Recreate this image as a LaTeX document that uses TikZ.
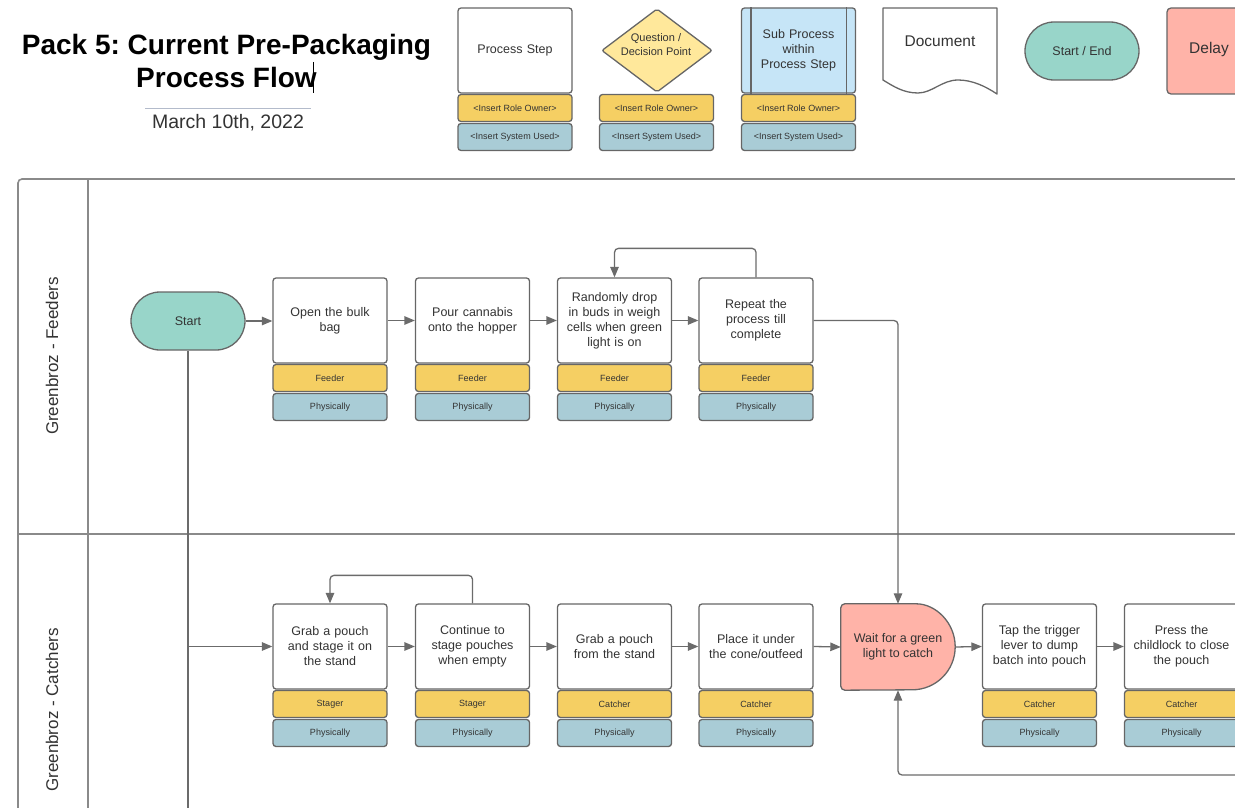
\documentclass[tikz,border=0pt]{standalone}
\usepackage{fontspec}
\setmainfont{Liberation Sans}
\usetikzlibrary{arrows.meta}
\frenchspacing

\definecolor{ink}{HTML}{333333}
\definecolor{boxline}{HTML}{666666}
\definecolor{connline}{HTML}{6B6B6B}
\definecolor{laneline}{HTML}{8A8A8A}
\definecolor{sepline}{HTML}{B3BBCB}
\definecolor{roleyellow}{HTML}{F5CF63}
\definecolor{sysblue}{HTML}{A9CCD6}
\definecolor{startteal}{HTML}{98D5C9}
\definecolor{delaysalmon}{HTML}{FFB3A8}
\definecolor{decisionyellow}{HTML}{FFE89B}
\definecolor{subblue}{HTML}{C6E5F7}

% one process step: main box, role band, system band
\newcommand{\procstep}[5]{% name, centre x, top y, text, role
  \node[proc] (#1) at (#2,#3+42.5) {#4};
  \node[role] (#1r) at (#2,#3+100) {#5};
  \node[sys] (#1s) at (#2,#3+129) {Physically};
}

\begin{document}
\begin{tikzpicture}[x=1pt,y=-1pt,
  txt/.style={text=ink, font=\fontsize{12.5}{15}\selectfont, align=center},
  outline/.style={draw=boxline, line width=1.3pt},
  proc/.style={outline, fill=white, rounded corners=3pt, minimum width=114pt,
    minimum height=85pt, inner sep=2pt, txt, text width=108pt},
  band/.style={outline, rounded corners=3pt, minimum width=114pt, minimum height=27pt,
    inner sep=0pt, text=ink, font=\fontsize{9}{10}\selectfont},
  role/.style={band, fill=roleyellow},
  sys/.style={band, fill=sysblue},
  pill/.style={outline, fill=startteal, rounded corners=29pt, minimum width=114pt,
    minimum height=58pt, inner sep=0pt, txt},
  conn/.style={draw=connline, line width=1.3pt, rounded corners=4pt},
  arr/.style={conn, -{Triangle[length=10.5pt,width=8.5pt]}},
  lane/.style={draw=laneline, line width=1.6pt},
]
\useasboundingbox (0,0) rectangle (1235,808);
\clip (0,0) rectangle (1235,808);

% ---------- heading ----------
\node[font=\fontsize{28}{33}\selectfont\bfseries, align=center, text=black] (title)
  at (226.5,60.5) {Pack 5: Current Pre-Packaging\\Process Flow};
\draw[black, line width=0.8pt] (313,62) -- (313,93);
\draw[sepline, line width=1pt] (145,108) -- (311,108);
\node[font=\fontsize{19.5}{22}\selectfont, text=ink] (date) at (228,123) {March 10th, 2022};

% ---------- legend ----------
\node[proc] (lp) at (515,50.5) {Process Step};
\node[role] (lpr) at (515,108) {<Insert Role Owner>};
\node[sys] (lps) at (515,137) {<Insert System Used>};

\draw[outline, fill=decisionyellow, rounded corners=2pt]
  (657,9) -- (712,50.5) -- (657,92) -- (602,50.5) -- cycle;
\node[text=ink, font=\fontsize{11}{14}\selectfont, align=center] (ld) at (656,45)
  {Question /\\Decision Point};
\node[role] (ldr) at (656.5,108) {<Insert Role Owner>};
\node[sys] (lds) at (656.5,137) {<Insert System Used>};

\node[proc, fill=subblue, text width=92pt] (ls) at (798.5,50.5) {Sub Process\\within\\Process Step};
\draw[outline] ([xshift=10pt]ls.north west) -- ([xshift=10pt]ls.south west);
\draw[outline] ([xshift=-10pt]ls.north east) -- ([xshift=-10pt]ls.south east);
\node[role] (lsr) at (798.5,108) {<Insert Role Owner>};
\node[sys] (lss) at (798.5,137) {<Insert System Used>};

\draw[outline, fill=white, line join=round]
  (883,80) -- (883,8) -- (997,8) -- (997,94)
  .. controls (985,86) and (972,80) .. (958,80)
  .. controls (942,80) and (932,93) .. (918,93)
  .. controls (903,93) and (893,86) .. (883,80) -- cycle;
\node[text=ink, font=\fontsize{15.5}{18}\selectfont] (ldoc) at (940,41) {Document};

\node[pill] (lse) at (1082,51) {Start / End};

\draw[outline, fill=delaysalmon]
  (1238,8) arc[start angle=90, end angle=-90, radius=43pt]
  [rounded corners=4pt] -- (1167,94) -- (1167,8) -- cycle;
\node[text=ink, font=\fontsize{15.5}{18}\selectfont] (ldl) at (1209,49) {Delay};

% ---------- swimlanes ----------
\draw[lane, rounded corners=4pt] (1260,179) -- (18,179) -- (18,830);
\draw[lane] (88,179) -- (88,830);
\draw[lane] (18,534) -- (1260,534);
\node[rotate=90, text=ink, font=\fontsize{17}{20}\selectfont] (lf) at (52,356) {Greenbroz - Feeders};
\node[rotate=90, text=ink, font=\fontsize{17}{20}\selectfont] (lc) at (52,710) {Greenbroz - Catchers};

% ---------- feeders ----------
\node[pill] (start) at (188,321) {Start};
\procstep{f1}{330}{278}{Open the bulk\\bag}{Feeder}
\procstep{f2}{472.5}{278}{Pour cannabis\\onto the hopper}{Feeder}
\procstep{f3}{614.5}{278}{Randomly drop\\in buds in weigh\\cells when green\\light is on}{Feeder}
\procstep{f4}{756}{278}{Repeat the\\process till\\complete}{Feeder}

% ---------- catchers ----------
\procstep{c1}{330}{604}{Grab a pouch\\and stage it on\\the stand}{Stager}
\procstep{c2}{472.5}{604}{Continue to\\stage pouches\\when empty}{Stager}
\procstep{c3}{614.5}{604}{Grab a pouch\\from the stand}{Catcher}
\procstep{c4}{756}{604}{Place it under\\the cone/outfeed}{Catcher}

\node[minimum width=114pt, minimum height=86pt, inner sep=0pt] (w) at (898,647) {};
\draw[outline, fill=delaysalmon]
  ([xshift=-43pt]w.north east) arc[start angle=90, end angle=-90, radius=43pt]
  [rounded corners=4pt] -- (w.south west) -- (w.north west) -- cycle;
\node[txt] (wt) at (w.center) {Wait for a green\\light to catch};

\procstep{c5}{1039.5}{604}{Tap the trigger\\lever to dump\\batch into pouch}{Catcher}
\procstep{c6}{1181.5}{604}{Press the\\childlock to close\\the pouch}{Catcher}

% ---------- connectors ----------
\draw[arr] (start.east) -- (f1.west |- start.east);
\draw[arr] (f1.east) -- (f2.west);
\draw[arr] (f2.east) -- (f3.west);
\draw[arr] (f3.east) -- (f4.west);
\draw[arr] (f4.north) -- ++(0,-29) -| (f3.north);
\draw[arr] (f4.east) -| (w.north);

\coordinate (sdown) at (188,830);
\draw[conn, line width=1.6pt] (start.south) -- (sdown);
\draw[arr] (start.south |- c1.west) -- (c1.west);
\draw[arr] (c1.east) -- (c2.west);
\draw[arr] (c2.north) -- ++(0,-28) -| (c1.north);
\draw[arr] (c2.east) -- (c3.west);
\draw[arr] (c3.east) -- (c4.west);
\draw[arr] (c4.east) -- (w.west);
\draw[arr] (w.east) -- (c5.west);
\draw[arr] (c5.east) -- (c6.west);
\coordinate (loopin) at (1260,775);
\draw[arr] (loopin) -| (w.south);
\end{tikzpicture}
\end{document}
